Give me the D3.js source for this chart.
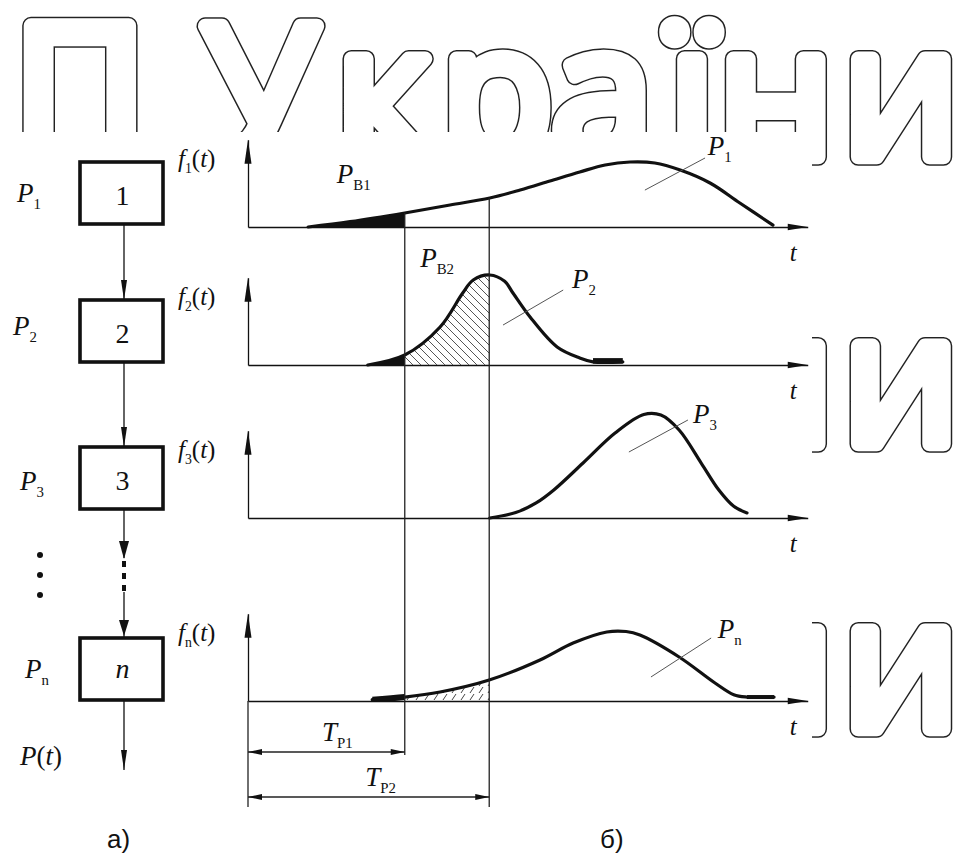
<!DOCTYPE html>
<html><head><meta charset="utf-8">
<script src="https://cdn.jsdelivr.net/npm/d3@7"></script>
<style>body{margin:0;background:#fff}svg{display:block}</style>
</head><body>
<svg id="c" width="969" height="854"></svg>
<script>
// ---------------- data ----------------
const watermarkChars = ["П","У","к","р","а","ї","н","и"];
const watermarkCenters = [80,260,383,497,602,692,776,901];
const watermarkBaselines = [157,444,729];

const blockNames = ["1","2","3","n"];
const blockProb = ["1","2","3","n"];
const tP = [28.4, 43.7];          // T_P1, T_P2 (t units)
const tAxisEnd = 101.4;
const axisMaxF = 0.97;

// density curves [t, f]
const curve1 = [[10.9,0],[18.5,0.06],[28.4,0.156],[36.6,0.244],[43.8,0.322],[49.3,0.411],[54.7,0.511],[60.1,0.611],[64.7,0.689],[69.2,0.722],[73.7,0.711],[78.3,0.633],[83.7,0.489],[89.1,0.267],[95.1,0.02]];
const curve2 = [[21.7,0],[28.4,0.111],[34.8,0.422],[38.9,0.8],[40.8,0.944],[43.8,1.0],[46.5,0.93],[48.0,0.8],[51.1,0.533],[56.0,0.2],[60.1,0.078],[62.5,0.035],[67.9,0.035]];
const curve3 = [[43.8,0],[48.5,0.06],[52.2,0.167],[55.4,0.311],[60.7,0.611],[66.5,0.944],[71.7,1.15],[74.8,1.144],[78.1,0.978],[82.1,0.611],[85.3,0.311],[88,0.13],[90.4,0.056]];
const curveN = [[22.5,0.015],[28.4,0.044],[34.8,0.1],[43.7,0.233],[52.9,0.456],[58.9,0.644],[65.0,0.767],[68.5,0.772],[71.0,0.733],[78.1,0.489],[84.6,0.2],[88,0.07],[90.4,0.044],[95.3,0.044]];

const panelBases = [227,365,518,701];
const panelCurves = [curve1,curve2,curve3,curveN];
const panelSubs = ["1","2","3","n"];
const pLabels = [[83.3,0.8],[58.7,0.856],[80.6,1.056],[85.1,0.7]];
const pLeaders = [[[71.9,0.41],[82.8,0.767]],[[46.2,0.444],[57.1,0.833]],[[69.0,0.733],[79.7,1.089]],[[73.0,0.267],[83.9,0.7]]];
const pbLabels = [[16.1,0.489,"В1"],[31.2,1.089,"В2"]];
const dimLevels = [752,797];

// ---------------- drawing ----------------
const svg = d3.select("#c");
const serif = "'Liberation Serif','Times New Roman',serif";
const ink = "#111";

// watermark: outlined, dilated letters
function wmLayer(strokeCol, sw, fillCol){
  const g = svg.append("g");
  watermarkBaselines.forEach(b => {
    watermarkChars.forEach((ch,i) => {
      g.append("text").attr("x",watermarkCenters[i]).attr("y",b).attr("text-anchor","middle")
        .attr("font-family","'Open Sans','Noto Sans',sans-serif").attr("font-size",184)
        .attr("fill",fillCol).attr("stroke",strokeCol).attr("stroke-width",sw)
        .attr("stroke-linejoin","round").text(ch);
    });
  });
}
wmLayer("#222",17.5,"#222");
wmLayer("#fff",14.5,"#fff");
svg.append("rect").attr("x",4).attr("y",132).attr("width",808).attr("height",722).attr("fill","#fff");

const defs = svg.append("defs");
const hb = defs.append("pattern").attr("id","hatchB").attr("patternUnits","userSpaceOnUse").attr("width",8).attr("height",8);
hb.append("path").attr("d","M-2,-2L10,10M-2,6L2,10M6,-2L10,2").attr("stroke","#555").attr("stroke-width",1);
const hf = defs.append("pattern").attr("id","hatchF").attr("patternUnits","userSpaceOnUse").attr("width",9).attr("height",7);
hf.append("path").attr("d","M2,7L6,1").attr("stroke","#444").attr("stroke-width",1);

function rich(x,y,parts,size,anchor){
  const t = svg.append("text").attr("x",x).attr("y",y).attr("font-family",serif).attr("font-size",size).attr("fill",ink);
  if (anchor) t.attr("text-anchor",anchor);
  let shifted=false;
  parts.forEach(p=>{
    const ts=t.append("tspan").text(p.s);
    if(p.i) ts.attr("font-style","italic");
    if(p.sub){ ts.attr("font-size",size*0.55); if(!shifted){ts.attr("dy",size*0.25);shifted=true;} }
    else if(shifted){ ts.attr("dy",-size*0.25); shifted=false; }
  });
  return t;
}

const x = d3.scaleLinear().domain([0,100]).range([248,800]);
function interpF(curve,t){
  for(let i=0;i<curve.length-1;i++){
    const a=curve[i],b=curve[i+1];
    if(t>=a[0]&&t<=b[0]) return a[1]+(b[1]-a[1])*(t-a[0])/(b[0]-a[0]);
  }
  return 0;
}

panelBases.forEach((base,pi)=>{
  const y = d3.scaleLinear().domain([0,1]).range([base,base-90]);
  const curve = panelCurves[pi];
  const g = svg.append("g");
  const xa = d3.scaleLinear().domain([0,tAxisEnd]).range([x(0),x(tAxisEnd)]);
  const ax = g.append("g").attr("transform",`translate(0,${base})`).call(d3.axisBottom(xa).tickValues([]).tickSizeOuter(0));
  ax.select(".domain").attr("stroke",ink).attr("stroke-width",1.3);
  const ya = d3.scaleLinear().domain([0,axisMaxF]).range([base,y(axisMaxF)]);
  const ay = g.append("g").attr("transform",`translate(${x(0)},0)`).call(d3.axisLeft(ya).tickValues([]).tickSizeOuter(0));
  ay.select(".domain").attr("stroke",ink).attr("stroke-width",1.3);
  const xe=x(tAxisEnd);
  g.append("path").attr("d",`M${xe},${base}L${xe-20},${base-3.2}L${xe-20},${base+3.2}Z`).attr("fill",ink);
  const ye=y(axisMaxF), x0=x(0);
  g.append("path").attr("d",`M${x0},${ye}L${x0-3.5},${ye+24}L${x0+3.5},${ye+24}Z`).attr("fill",ink);
  rich(xe-18,base+34,[{s:"t",i:1}],25);
  rich(x0-70,base-60,[{s:"f",i:1},{s:panelSubs[pi],sub:1},{s:"("},{s:"t",i:1},{s:")"}],25);

  const area = d3.area().x(d=>x(d[0])).y0(base).y1(d=>y(d[1])).curve(d3.curveCatmullRom.alpha(0.5));
  const line = d3.line().x(d=>x(d[0])).y(d=>y(d[1])).curve(d3.curveCatmullRom.alpha(0.5));
  function clipRange(a,b){
    const id="cl"+pi+"_"+Math.round(a*10)+"_"+Math.round(b*10);
    defs.append("clipPath").attr("id",id).append("rect").attr("x",x(a)).attr("y",base-200).attr("width",x(b)-x(a)).attr("height",200);
    return `url(#${id})`;
  }
  if(pi<=1){
    g.append("path").attr("d",area(curve)).attr("fill",ink).attr("clip-path",clipRange(curve[0][0],tP[0]));
  }
  if(pi==1){
    g.append("path").attr("d",area(curve)).attr("fill","url(#hatchB)").attr("clip-path",clipRange(tP[0],tP[1]));
    const tail=curve.slice(-2);
    g.append("path").attr("d",d3.line().x(d=>x(d[0])).y(d=>y(d[1])-1)(tail)).attr("stroke",ink).attr("stroke-width",5.5).attr("fill","none");
  }
  if(pi==3){
    g.append("path").attr("d",area(curve)).attr("fill","url(#hatchF)").attr("clip-path",clipRange(tP[0],tP[1]));
    g.append("path").attr("d",line(curve)).attr("stroke",ink).attr("stroke-width",6).attr("fill","none").attr("clip-path",clipRange(curve[0][0],tP[0]));
    const tail=curve.slice(-2);
    g.append("path").attr("d",d3.line().x(d=>x(d[0])).y(d=>y(d[1]))(tail)).attr("stroke",ink).attr("stroke-width",4).attr("fill","none");
  }
  g.append("path").attr("d",line(curve)).attr("stroke",ink).attr("stroke-width",3.2).attr("fill","none").attr("stroke-linecap","round");
  const ld=pLeaders[pi];
  g.append("line").attr("x1",x(ld[0][0])).attr("y1",y(ld[0][1])).attr("x2",x(ld[1][0])).attr("y2",y(ld[1][1])).attr("stroke","#555").attr("stroke-width",1);
  rich(x(pLabels[pi][0]),y(pLabels[pi][1]),[{s:"P",i:1},{s:panelSubs[pi],sub:1}],27);
  if(pi<2){
    const pb=pbLabels[pi];
    rich(x(pb[0]),y(pb[1]),[{s:"P",i:1},{s:pb[2],sub:1}],27);
  }
});

// vertical T lines
const y1 = d3.scaleLinear().domain([0,1]).range([panelBases[0],panelBases[0]-90]);
tP.forEach((tv,i)=>{
  svg.append("line").attr("x1",x(tv)).attr("x2",x(tv)).attr("y1",y1(interpF(curve1,tv))).attr("y2",dimLevels[i]+(i==0?3:10))
    .attr("stroke","#222").attr("stroke-width",1.3);
});
svg.append("line").attr("x1",x(0)).attr("x2",x(0)).attr("y1",panelBases[3]).attr("y2",dimLevels[1]+10).attr("stroke","#222").attr("stroke-width",1.3);
tP.forEach((tv,i)=>{
  const yy=dimLevels[i], a=x(0), b=x(tv);
  svg.append("line").attr("x1",a).attr("x2",b).attr("y1",yy).attr("y2",yy).attr("stroke","#222").attr("stroke-width",1.3);
  svg.append("path").attr("d",`M${a},${yy}L${a+14},${yy-3}L${a+14},${yy+3}Z`).attr("fill",ink);
  svg.append("path").attr("d",`M${b},${yy}L${b-14},${yy-3}L${b-14},${yy+3}Z`).attr("fill",ink);
  rich((a+b)/2+(i==0?11:12),yy-11,[{s:"T",i:1},{s:"Р"+(i+1),sub:1}],27,"middle");
});

// ---------------- block diagram ----------------
const boxTops = [162,300,447,638];
const boxX = 80, boxW = 83, boxH = 62, lineX = 124;
const sideLabelX = [17,13,20,25];
const sideLabelY = [202,335,490,678];
boxTops.forEach((top,i)=>{
  svg.append("rect").attr("x",boxX).attr("y",top).attr("width",boxW).attr("height",boxH).attr("fill","#fff").attr("stroke",ink).attr("stroke-width",3.6);
  svg.append("text").attr("x",boxX+boxW/2+1).attr("y",top+(i==3?40:43)).attr("text-anchor","middle").attr("font-family",serif)
    .attr("font-size",28).attr("font-style",i==3?"italic":"normal").attr("fill",ink).text(blockNames[i]);
  rich(sideLabelX[i],sideLabelY[i],[{s:"P",i:1},{s:blockProb[i],sub:1}],27);
});
function vline(y0,y1){ svg.append("line").attr("x1",lineX).attr("x2",lineX).attr("y1",y0).attr("y2",y1).attr("stroke",ink).attr("stroke-width",1.3); }
function arrow(tipY,len,w){ svg.append("path").attr("d",`M${lineX},${tipY}L${lineX-w/2},${tipY-len}L${lineX+w/2},${tipY-len}Z`).attr("fill",ink); }
vline(boxTops[0]+boxH,boxTops[1]); arrow(boxTops[1],20,6);
vline(boxTops[1]+boxH,boxTops[2]); arrow(boxTops[2],20,6);
vline(boxTops[2]+boxH,558); arrow(559,18,10);
[564,576,588].forEach(d=>svg.append("rect").attr("x",lineX-2).attr("y",d-3).attr("width",4).attr("height",6).attr("fill",ink));
vline(592,boxTops[3]); arrow(boxTops[3]-2,16,10);
vline(boxTops[3]+boxH,770); arrow(770,20,6);
[555,575,595].forEach(d=>svg.append("circle").attr("cx",40).attr("cy",d).attr("r",3).attr("fill",ink));
rich(20,765,[{s:"P",i:1},{s:"("},{s:"t",i:1},{s:")"}],27);

svg.append("text").attr("x",107).attr("y",848).attr("font-family","'Liberation Sans',Arial,sans-serif").attr("font-size",26).attr("fill",ink).text("а)");
svg.append("text").attr("x",600).attr("y",848).attr("font-family","'Liberation Sans',Arial,sans-serif").attr("font-size",26).attr("fill",ink).text("б)");
</script>
</body></html>
